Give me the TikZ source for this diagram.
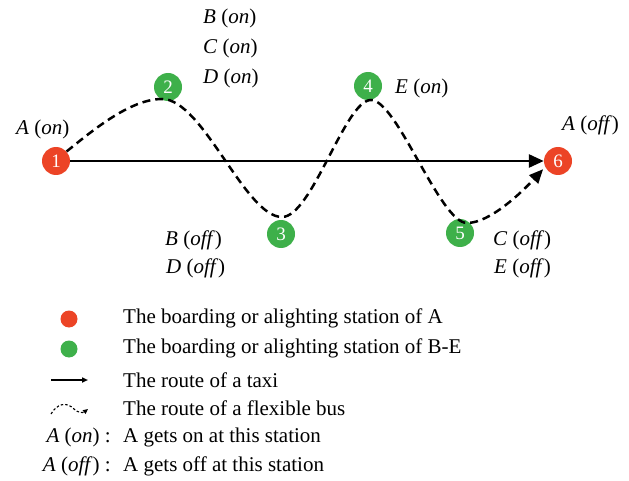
\documentclass[tikz,border=0pt]{standalone}
\usepackage{fontspec}
\setmainfont{Liberation Serif}
\usetikzlibrary{arrows.meta}
\definecolor{stRed}{RGB}{236,68,38}
\definecolor{stGreen}{RGB}{62,176,74}
\begin{document}
\begin{tikzpicture}[x=1pt,y=-1pt,
  station/.style={circle,minimum size=28pt,inner sep=0pt,text=white,font=\fontsize{19}{19}\selectfont},
  redst/.style={station,fill=stRed},
  greenst/.style={station,fill=stGreen},
  lbl/.style={anchor=west,inner sep=0pt,font=\fontsize{21}{24}\selectfont},
  taxi/.style={line width=2.7pt,-{Triangle[length=15pt,width=13pt]}},
  bus/.style={line width=2.5pt,dash pattern=on 8pt off 5pt,-{Triangle[length=14pt,width=12pt]}},
  legdot/.style={circle,minimum size=17pt,inner sep=0pt},
]
\useasboundingbox (0,0) rectangle (629,481);

% stations
\node[redst]   (n1) at (56,161)  {1};
\node[greenst] (n2) at (168,87)  {2};
\node[greenst] (n3) at (281,234) {3};
\node[greenst] (n4) at (368,86)  {4};
\node[greenst] (n5) at (460,233) {5};
\node[redst]   (n6) at (558,161) {6};

% taxi route
\draw[taxi] (n1.east) -- (n6.west);

% flexible bus route
\coordinate (p2) at (162,99);
\coordinate (p3) at (282,217);
\coordinate (p4) at (371,100);
\coordinate (p5) at (467,223);
\draw[bus,shorten >=3pt] (n1.42) .. controls (92,131) and (130,99) .. (p2)
  .. controls (203,99) and (245,217) .. (p3)
  .. controls (312,217) and (345,100) .. (p4)
  .. controls (397,100) and (440,223) .. (p5)
  .. controls (490,223) and (522,192) .. (n6.205);

% labels
\node[lbl] (lA1) at (16,129) {\textit{A} (\textit{on})};
\node[lbl] (lB1) at (203,18) {\textit{B} (\textit{on})};
\node[lbl] (lC1) at (203,48) {\textit{C} (\textit{on})};
\node[lbl] (lD1) at (203,78) {\textit{D} (\textit{on})};
\node[lbl] (lE1) at (395,88) {\textit{E} (\textit{on})};
\node[lbl] (lA2) at (562,125) {\textit{A} (\textit{off})};
\node[lbl] (lB2) at (165,240) {\textit{B} (\textit{off})};
\node[lbl] (lD2) at (166,268) {\textit{D} (\textit{off})};
\node[lbl] (lC2) at (493,240) {\textit{C} (\textit{off})};
\node[lbl] (lE2) at (494,268) {\textit{E} (\textit{off})};

% legend
\node[legdot,fill=stRed]   (dR) at (69,319) {};
\node[legdot,fill=stGreen] (dG) at (69,349) {};
\coordinate (ta) at (51,380);
\coordinate (tb) at (88,380);
\draw[line width=1.6pt,-{Triangle[length=6pt,width=5pt]}] (ta) -- (tb);
\coordinate (ba) at (51,414);
\coordinate (bb) at (88,409);
\draw[line width=1.1pt,dash pattern=on 2.5pt off 2pt,-{Triangle[length=5pt,width=4.5pt]}]
  (ba) .. controls (57,404) and (66,401) .. (74,409) .. controls (78,413) and (83,413) .. (bb);

\node[lbl] (t1) at (123,318) {The boarding or alighting station of A};
\node[lbl] (t2) at (123,348) {The boarding or alighting station of B-E};
\node[lbl] (t3) at (123,380) {The route of a taxi};
\node[lbl] (t4) at (123,408) {The route of a flexible bus};
\node[lbl] (t5) at (123,437) {A gets on at this station};
\node[lbl] (t6) at (123,466) {A gets off at this station};
\node[lbl,anchor=east] (k5) at (111,437) {\textit{A} (\textit{on}) :};
\node[lbl,anchor=east] (k6) at (111,466) {\textit{A} (\textit{off}) :};
\end{tikzpicture}
\end{document}
